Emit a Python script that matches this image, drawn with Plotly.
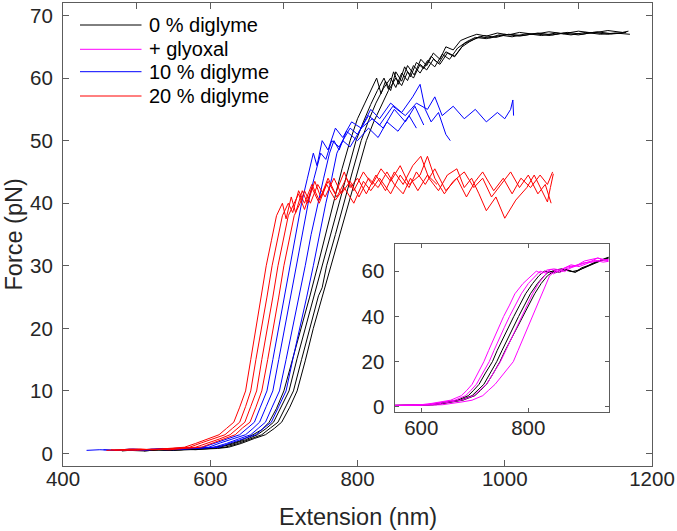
import plotly.graph_objects as go

# ---------------- data (nm, pN) ----------------
legend_labels = ["0 % diglyme", "+ glyoxal", "10 % diglyme", "20 % diglyme"]
legend_colors = ["#000000", "#ff00ff", "#0000ff", "#ff0000"]

black_a_x = [480, 500, 520, 540, 560, 580, 600, 620, 640, 658, 670, 680, 690, 700, 712, 723, 735, 746, 757, 768, 779, 790, 800, 810, 818, 826, 832, 838, 845, 852, 860, 868, 877, 886, 894, 903, 912, 920, 930, 940, 950, 962, 975, 990, 1005, 1020, 1040, 1060, 1080, 1100, 1120, 1140, 1160, 1168]
black_a_y = [0.4, 0.6, 0.5, 0.7, 0.6, 0.8, 0.9, 1.3, 2.0, 3.0, 3.8, 5.0, 7.2, 10.0, 15.0, 20.0, 25.0, 30.0, 35.2, 40.0, 45.5, 50.0, 53.5, 56.0, 58.0, 60.0, 57.5, 59.5, 58.0, 61.0, 59.5, 62.0, 60.5, 63.0, 62.0, 64.0, 63.0, 65.0, 64.5, 66.0, 66.5, 67.0, 66.7, 67.2, 66.9, 67.3, 67.0, 67.4, 67.1, 67.5, 67.2, 67.6, 67.3, 67.5]

black_b_x = [490, 510, 530, 550, 570, 590, 612, 630, 648, 664, 676, 686, 697, 707, 718, 729, 741, 752, 764, 775, 787, 798, 808, 818, 827, 836, 842, 849, 856, 864, 872, 880, 890, 900, 910, 920, 932, 945, 958, 972, 988, 1005, 1025, 1045, 1065, 1085, 1105, 1125, 1145, 1165]
black_b_y = [0.5, 0.4, 0.6, 0.5, 0.7, 0.8, 1.0, 1.5, 2.2, 3.0, 4.0, 5.0, 7.5, 10.0, 15.2, 20.0, 25.3, 30.0, 35.0, 40.0, 45.2, 50.0, 53.0, 55.8, 58.0, 60.0, 58.2, 61.0, 59.0, 61.8, 60.2, 62.5, 61.5, 63.5, 62.3, 64.2, 63.5, 65.5, 66.2, 66.8, 66.5, 67.0, 66.8, 67.2, 66.9, 67.3, 67.0, 67.4, 67.1, 67.3]

black_c_x = [500, 520, 540, 560, 580, 600, 620, 638, 655, 670, 682, 692, 703, 713, 724, 735, 747, 752, 758, 770, 781, 793, 805, 815, 825, 835, 845, 852, 860, 868, 876, 885, 895, 905, 915, 925, 936, 948, 960, 975, 992, 1010, 1030, 1050, 1070, 1090, 1110, 1130, 1150, 1170]
black_c_y = [0.5, 0.6, 0.5, 0.7, 0.6, 0.8, 1.0, 1.6, 2.3, 3.0, 4.1, 5.0, 7.6, 10.0, 15.0, 20.0, 25.2, 26.5, 30.0, 35.0, 40.0, 45.0, 50.0, 53.2, 56.0, 58.3, 60.0, 58.5, 60.8, 59.6, 62.0, 60.8, 62.8, 61.8, 63.8, 63.0, 64.8, 65.8, 66.5, 66.3, 66.9, 66.6, 67.1, 66.8, 67.2, 66.9, 67.3, 67.0, 67.2, 67.0]

black_d_x = [510, 530, 550, 570, 590, 610, 625, 642, 660, 675, 687, 697, 708, 718, 729, 740, 752, 764, 776, 788, 800, 812, 822, 832, 842, 852, 860, 868, 876, 885, 894, 903, 912, 922, 932, 942, 952, 965, 980, 1000, 1020, 1040, 1060, 1080, 1100, 1120, 1140, 1160]
black_d_y = [0.4, 0.6, 0.5, 0.6, 0.7, 0.8, 1.0, 1.6, 2.4, 3.0, 4.0, 5.0, 7.4, 10.0, 14.8, 20.0, 25.0, 30.0, 35.0, 40.0, 45.0, 50.0, 53.0, 55.6, 58.0, 60.0, 58.8, 61.0, 60.0, 62.2, 61.3, 63.0, 62.2, 64.0, 63.4, 65.0, 65.8, 66.6, 66.4, 67.0, 66.7, 67.1, 66.8, 67.2, 66.9, 67.3, 67.0, 67.2]

blue_e_x = [432, 450, 470, 490, 510, 530, 550, 570, 590, 605, 622, 640, 650, 660, 668, 677, 685, 693, 700, 708, 716, 724, 732, 740, 745, 752, 760, 770, 780, 792, 805, 818, 830, 845, 860, 875, 885, 892, 900, 910, 920, 926]
blue_e_y = [0.5, 0.6, 0.5, 0.7, 0.6, 0.7, 0.8, 0.9, 1.0, 1.6, 2.3, 3.0, 4.0, 5.0, 7.4, 10.0, 15.0, 20.0, 25.0, 30.0, 35.0, 40.0, 44.0, 48.0, 46.0, 50.0, 48.5, 52.0, 50.5, 53.0, 52.0, 55.0, 53.5, 56.0, 54.5, 57.0, 59.0, 55.0, 53.0, 54.5, 51.0, 50.0]

blue_f_x = [455, 475, 495, 515, 535, 555, 575, 598, 614, 631, 648, 658, 667, 676, 685, 693, 701, 709, 717, 725, 733, 741, 750, 757, 765, 775, 790, 800, 815, 830, 848, 865, 880, 895, 905, 915, 930, 945, 960, 975, 990, 1000, 1008, 1011, 1012]
blue_f_y = [0.6, 0.5, 0.7, 0.6, 0.8, 0.7, 0.9, 1.0, 1.7, 2.3, 3.0, 4.0, 5.0, 7.5, 10.0, 15.0, 20.0, 25.0, 30.0, 35.0, 40.0, 44.0, 48.0, 47.0, 50.0, 49.0, 52.0, 51.0, 54.0, 52.5, 55.5, 54.0, 56.0, 55.0, 57.0, 54.0, 55.5, 53.5, 55.0, 53.0, 54.5, 53.5, 55.0, 56.5, 54.0]

blue_g_x = [470, 490, 510, 530, 550, 570, 590, 605, 622, 638, 655, 665, 675, 684, 694, 703, 712, 720, 729, 737, 746, 754, 762, 768, 775, 785, 800, 815, 828, 840, 855, 870, 880]
blue_g_y = [0.5, 0.6, 0.5, 0.7, 0.6, 0.8, 0.9, 1.0, 1.6, 2.3, 3.0, 4.0, 5.0, 7.4, 10.0, 15.0, 20.0, 25.0, 30.0, 35.0, 40.0, 44.0, 48.0, 50.0, 48.5, 51.5, 50.0, 52.0, 50.5, 53.0, 51.5, 54.0, 52.0]

blue_h_x = [480, 500, 520, 540, 560, 580, 600, 612, 628, 645, 662, 673, 683, 693, 703, 712, 722, 731, 740, 748, 757, 765, 772, 780, 790, 805, 820, 835, 850, 865, 878, 890]
blue_h_y = [0.6, 0.5, 0.7, 0.6, 0.7, 0.8, 0.9, 1.0, 1.7, 2.4, 3.0, 4.1, 5.0, 7.5, 10.0, 15.0, 20.0, 25.0, 30.0, 35.0, 40.0, 44.0, 48.0, 50.0, 49.0, 52.0, 53.5, 52.0, 55.0, 53.0, 55.5, 52.5]

red_i_x = [459, 480, 500, 520, 540, 565, 580, 596, 612, 622, 632, 640, 648, 655, 662, 669, 676, 683, 690, 698, 703, 710, 716, 725, 732, 742, 750, 760, 770, 782, 790, 800, 812, 825, 838, 850, 862, 875, 886, 897, 910, 922, 935, 945, 955, 965, 975, 988, 1000, 1015, 1030, 1040, 1050, 1058, 1062, 1066]
red_i_y = [0.5, 0.6, 0.7, 0.6, 0.8, 1.0, 1.6, 2.3, 3.0, 4.0, 5.0, 7.4, 10.0, 15.0, 20.0, 25.0, 30.0, 34.0, 38.0, 40.0, 37.5, 41.0, 38.5, 42.0, 40.0, 43.5, 41.0, 44.0, 41.5, 45.0, 42.5, 44.0, 41.5, 44.5, 42.0, 45.0, 43.0, 46.0, 47.5, 44.0, 42.0, 44.5, 45.5, 42.5, 44.0, 41.5, 38.8, 41.0, 37.6, 40.5, 42.5, 44.5, 42.0, 40.2, 42.5, 44.7]

red_j_x = [465, 485, 505, 525, 550, 572, 588, 604, 620, 630, 640, 648, 655, 662, 670, 677, 684, 691, 698, 706, 712, 720, 728, 738, 748, 760, 772, 785, 795, 808, 820, 832, 845, 858, 870, 885, 895, 905, 918, 930, 945, 958, 970, 982, 995, 1008, 1020, 1032, 1045, 1055, 1063]
red_j_y = [0.6, 0.5, 0.7, 0.6, 0.8, 1.0, 1.7, 2.3, 3.0, 4.0, 5.0, 7.5, 10.0, 15.0, 20.0, 25.0, 30.0, 34.0, 38.0, 40.0, 38.5, 42.0, 40.0, 43.0, 40.5, 43.5, 41.0, 44.0, 42.0, 45.0, 43.0, 45.5, 43.5, 46.0, 43.0, 44.5, 47.5, 44.0, 41.5, 43.5, 45.0, 42.5, 44.0, 41.0, 43.0, 45.0, 42.5, 44.5, 41.5, 43.0, 40.0]

red_k_x = [470, 490, 510, 535, 558, 580, 596, 612, 627, 637, 647, 655, 663, 670, 678, 685, 692, 699, 706, 714, 720, 728, 738, 748, 758, 770, 782, 795, 808, 818, 830, 845, 858, 870, 880, 892, 905, 920, 935, 948, 960, 970, 985, 998, 1010, 1022, 1035, 1048, 1058, 1065]
red_k_y = [0.5, 0.7, 0.6, 0.7, 0.8, 1.0, 1.6, 2.3, 3.0, 4.0, 5.0, 7.5, 10.0, 15.0, 20.0, 25.0, 30.0, 34.0, 38.0, 40.0, 41.5, 39.0, 42.5, 40.0, 43.0, 40.5, 42.5, 40.0, 43.5, 42.0, 44.0, 41.5, 44.5, 42.5, 45.0, 43.0, 45.5, 42.0, 44.0, 41.0, 43.5, 45.0, 42.0, 44.0, 41.5, 44.0, 42.5, 44.5, 43.0, 45.0]

red_l_x = [480, 500, 520, 545, 565, 588, 604, 619, 634, 644, 654, 662, 670, 678, 686, 693, 700, 707, 714, 722, 728, 736, 746, 756, 768, 778, 790, 802, 815, 828, 840, 850, 862, 872, 882, 895, 908]
red_l_y = [0.6, 0.5, 0.7, 0.6, 0.8, 1.0, 1.7, 2.4, 3.0, 4.1, 5.0, 7.4, 10.0, 15.0, 20.0, 25.0, 30.0, 34.0, 38.0, 40.0, 42.0, 40.0, 43.0, 41.0, 44.0, 41.5, 43.5, 41.0, 44.0, 42.5, 45.0, 43.0, 41.5, 44.0, 42.0, 44.5, 43.0]

# inset: 0 % diglyme (black) and + glyoxal (magenta)
inset_black_1_x = [540, 565, 590, 615, 633, 651, 668, 678, 688, 698, 708, 720, 733, 742, 752, 762, 773, 784, 795, 808, 820, 830, 840, 850, 862, 875, 888, 900, 912, 925, 938, 955]
inset_black_1_y = [0.7, 0.6, 0.8, 1.0, 1.6, 2.3, 3.0, 4.0, 5.0, 7.4, 10.0, 15.0, 20.0, 25.0, 30.0, 35.0, 40.0, 45.0, 50.0, 54.5, 58.0, 60.0, 59.5, 60.5, 61.0, 60.3, 59.6, 61.5, 62.5, 64.0, 65.2, 66.6]
inset_black_2_x = [545, 570, 597, 622, 639, 656, 673, 684, 695, 706, 717, 729, 741, 751, 761, 771, 782, 793, 804, 817, 830, 840, 850, 862, 875, 888, 900, 912, 925, 938, 955]
inset_black_2_y = [0.6, 0.7, 0.8, 1.0, 1.6, 2.3, 3.0, 4.0, 5.0, 7.5, 10.0, 15.0, 20.0, 25.0, 30.0, 35.0, 40.0, 45.0, 50.0, 54.5, 58.0, 60.0, 59.2, 60.8, 60.0, 59.5, 61.0, 62.5, 63.8, 64.8, 66.0]
inset_black_3_x = [550, 575, 602, 628, 645, 661, 678, 689, 700, 711, 722, 735, 747, 757, 768, 779, 790, 801, 812, 824, 836, 848, 858, 870, 882, 895, 908, 920, 932, 945, 955]
inset_black_3_y = [0.7, 0.6, 0.8, 1.0, 1.6, 2.3, 3.0, 4.0, 5.0, 7.4, 10.0, 15.0, 20.0, 25.0, 30.0, 35.0, 40.0, 45.0, 50.0, 54.5, 58.0, 60.0, 59.5, 60.8, 59.8, 60.5, 61.8, 63.0, 64.5, 65.5, 66.5]

inset_mag_1_x = [540, 560, 580, 600, 620, 638, 655, 665, 675, 685, 695, 706, 717, 726, 735, 745, 754, 765, 775, 790, 805, 815, 825, 835, 848, 860, 875, 890, 905, 920, 935, 950, 960]
inset_mag_1_y = [0.6, 0.7, 0.8, 1.0, 1.6, 2.3, 3.0, 4.0, 5.0, 7.3, 10.0, 15.0, 20.0, 25.0, 30.0, 35.0, 40.0, 45.0, 50.0, 54.5, 58.0, 60.0, 59.0, 60.5, 61.0, 60.5, 62.0, 62.5, 63.8, 64.0, 64.8, 65.0, 65.2]
inset_mag_2_x = [540, 560, 585, 610, 628, 646, 663, 673, 683, 693, 703, 715, 727, 736, 745, 755, 765, 776, 787, 800, 815, 822, 832, 842, 855, 868, 880, 895, 910, 925, 940, 955]
inset_mag_2_y = [0.7, 0.6, 0.8, 1.0, 1.6, 2.3, 3.0, 4.0, 5.0, 7.4, 10.0, 15.0, 20.0, 25.0, 30.0, 35.0, 40.0, 45.0, 50.0, 54.5, 58.0, 60.0, 59.2, 60.8, 60.0, 61.5, 62.8, 62.0, 63.5, 64.8, 64.0, 64.5]
inset_mag_3_x = [540, 565, 590, 618, 638, 657, 675, 687, 698, 710, 722, 735, 748, 758, 768, 778, 788, 798, 808, 819, 830, 837, 847, 858, 868, 880, 892, 905, 918, 930, 945, 955]
inset_mag_3_y = [0.6, 0.8, 0.7, 1.0, 1.6, 2.3, 3.0, 4.0, 5.0, 7.5, 10.0, 15.0, 20.0, 25.0, 30.0, 35.0, 40.0, 45.0, 50.0, 54.5, 58.0, 60.0, 58.8, 60.5, 59.8, 61.5, 62.5, 63.5, 64.5, 65.8, 65.0, 64.3]
inset_mag_4_x = [540, 570, 605, 640, 660, 678, 695, 706, 715, 726, 738, 755, 772, 781, 790, 798, 807, 816, 825, 833, 840, 850, 860, 870, 882, 894, 905, 917, 930, 942, 955]
inset_mag_4_y = [0.7, 0.6, 0.8, 1.0, 1.6, 2.3, 3.0, 4.0, 5.0, 7.4, 10.0, 15.0, 20.0, 25.0, 30.0, 35.0, 40.0, 45.0, 50.0, 54.5, 58.0, 60.0, 59.5, 61.0, 62.0, 63.0, 64.5, 65.0, 65.8, 64.8, 65.5]

main_x_ticks = [400, 600, 800, 1000, 1200]
main_x_top_ticks = [400, 500, 600, 700, 800, 900, 1000, 1100, 1200]
main_y_ticks = [0, 10, 20, 30, 40, 50, 60, 70]
inset_x_ticks = [600, 800]
inset_y_ticks = [0, 20, 40, 60]
x_title = "Extension (nm)"
y_title = "Force (pN)"

# ---------------- figure ----------------
W, H = 677, 531
ML, MR, MT, MB = 63, 25, 3, 65
PW, PH = W - ML - MR, H - MT - MB

def px_x(px):
    return (px - ML) / PW

def px_y(py):
    return (H - MB - py) / PH

fig = go.Figure()
LW = 1

main_series = [
    (black_a_x, black_a_y, "#000000"), (black_b_x, black_b_y, "#000000"),
    (black_c_x, black_c_y, "#000000"), (black_d_x, black_d_y, "#000000"),
    (blue_e_x, blue_e_y, "#0000ff"), (blue_f_x, blue_f_y, "#0000ff"),
    (blue_g_x, blue_g_y, "#0000ff"), (blue_h_x, blue_h_y, "#0000ff"),
    (red_i_x, red_i_y, "#ff0000"), (red_j_x, red_j_y, "#ff0000"),
    (red_k_x, red_k_y, "#ff0000"), (red_l_x, red_l_y, "#ff0000"),
]
for xs, ys, c in main_series:
    fig.add_trace(go.Scatter(x=xs, y=ys, mode="lines", line=dict(color=c, width=LW),
                             showlegend=False, xaxis="x", yaxis="y", hoverinfo="skip"))

inset_series = [
    (inset_black_1_x, inset_black_1_y, "#000000"), (inset_black_2_x, inset_black_2_y, "#000000"),
    (inset_black_3_x, inset_black_3_y, "#000000"),
    (inset_mag_1_x, inset_mag_1_y, "#ff00ff"), (inset_mag_2_x, inset_mag_2_y, "#ff00ff"),
    (inset_mag_3_x, inset_mag_3_y, "#ff00ff"), (inset_mag_4_x, inset_mag_4_y, "#ff00ff"),
]
for xs, ys, c in inset_series:
    fig.add_trace(go.Scatter(x=xs, y=ys, mode="lines", line=dict(color=c, width=LW),
                             showlegend=False, xaxis="x2", yaxis="y2", hoverinfo="skip"))

# dummy trace to activate top tick axis
fig.add_trace(go.Scatter(x=[400], y=[-10], mode="lines", showlegend=False,
                         xaxis="x3", yaxis="y", hoverinfo="skip"))

AX = "#5c5c5c"
TXT = "#262626"
FONT = "Liberation Sans, Arial, sans-serif"
TICKF = dict(family=FONT, size=20.5, color=TXT)
TITLEF = dict(family=FONT, size=23.5, color=TXT)

inset_dom_x = [px_x(394.5), px_x(608.5)]
inset_dom_y = [px_y(411.5), px_y(244)]

fig.update_layout(
    width=W, height=H,
    margin=dict(l=ML, r=MR, t=MT, b=MB),
    paper_bgcolor="white", plot_bgcolor="white",
    font=dict(family=FONT, color=TXT),
    hovermode=False,
    xaxis=dict(domain=[0, 1], anchor="y", range=[400, 1200], tickvals=main_x_ticks,
               ticks="inside", ticklen=6, tickcolor=AX, showline=True, linecolor=AX,
               linewidth=1, mirror=True, showgrid=False, zeroline=False,
               tickfont=TICKF, ticklabelstandoff=-6),
    xaxis3=dict(overlaying="x", side="top", anchor="y", range=[400, 1200],
                tickvals=main_x_top_ticks, ticks="inside", ticklen=6, tickcolor=AX,
                showticklabels=False, showline=False, showgrid=False, zeroline=False),
    yaxis=dict(domain=[0, 1], anchor="x", range=[-2, 72], tickvals=main_y_ticks,
               ticks="inside", ticklen=6, tickcolor=AX, showline=True, linecolor=AX,
               linewidth=1, mirror="ticks", showgrid=False, zeroline=False,
               tickfont=TICKF, ticklabelstandoff=5),
    xaxis2=dict(domain=inset_dom_x, anchor="y2", range=[550, 950], tickvals=inset_x_ticks,
                ticks="inside", ticklen=4, tickcolor=AX, showline=True, linecolor=AX,
                linewidth=1, mirror="ticks", showgrid=False, zeroline=False,
                tickfont=TICKF, ticklabelstandoff=-2),
    yaxis2=dict(domain=inset_dom_y, anchor="x2", range=[-2, 72], tickvals=inset_y_ticks,
                ticks="inside", ticklen=4, tickcolor=AX, showline=True, linecolor=AX,
                linewidth=1, mirror="ticks", showgrid=False, zeroline=False,
                tickfont=TICKF, ticklabelstandoff=5),
    showlegend=False,
)

# axis titles
fig.add_annotation(xref="paper", yref="paper", x=0.5, y=px_y(517), text=x_title,
                   showarrow=False, xanchor="center", yanchor="middle", font=TITLEF)
fig.add_annotation(xref="paper", yref="paper", x=px_x(13), y=0.5, text=y_title,
                   showarrow=False, xanchor="center", yanchor="middle", textangle=-90,
                   font=TITLEF)

# legend drawn manually (long MATLAB-style line samples)
leg_rows_px = [25, 49.3, 71.7, 96]
for lab, col, py in zip(legend_labels, legend_colors, leg_rows_px):
    fig.add_shape(type="line", xref="paper", yref="paper",
                  x0=px_x(80), x1=px_x(141.5), y0=px_y(py), y1=px_y(py),
                  line=dict(color=col, width=1))
    fig.add_annotation(xref="paper", yref="paper", x=px_x(147), y=px_y(py),
                       text=lab, showarrow=False, xanchor="left", yanchor="middle",
                       font=dict(family=FONT, size=20, color="#000000"))

fig.write_html("out.html", config={"displayModeBar": False},
               post_script="document.body.style.margin='0';")
